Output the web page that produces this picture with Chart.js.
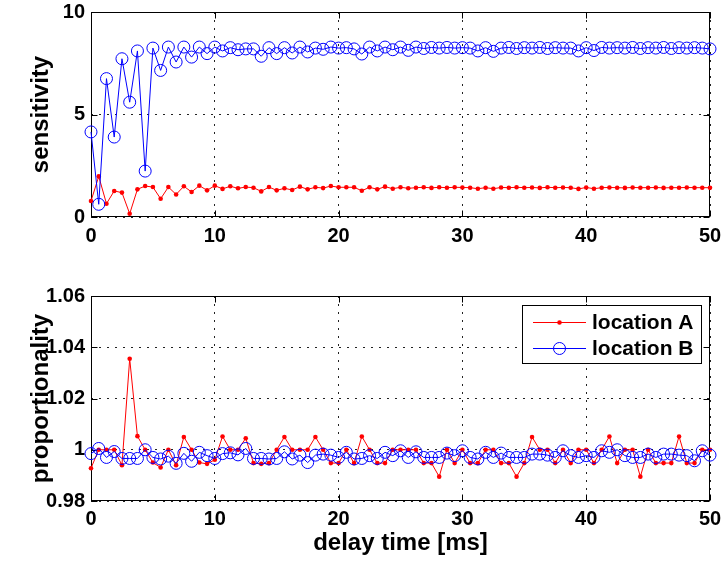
<!DOCTYPE html>
<html>
<head>
<meta charset="utf-8">
<title>sensitivity / proportionality vs delay time</title>
<script src="https://cdn.jsdelivr.net/npm/chart.js@4.4.0/dist/chart.umd.min.js"></script>
<style>
  html, body { margin: 0; padding: 0; background: #fff; }
  #wrap { position: relative; width: 724px; height: 565px; }
  #topChart { position: absolute; left: 0; top: 0; }
  #bottomChart { position: absolute; left: 0; top: 260px; }
</style>
</head>
<body>
<div id="wrap">
  <canvas id="topChart" width="724" height="260"></canvas>
  <canvas id="bottomChart" width="724" height="305"></canvas>
</div>
<script>
// -------- Data (one row = 10 ms) --------
const delayTime = [
  0, 0.625, 1.25, 1.875, 2.5, 3.125, 3.75, 4.375, 5, 5.625, 6.25, 6.875, 7.5, 8.125, 8.75, 9.375,
  10, 10.625, 11.25, 11.875, 12.5, 13.125, 13.75, 14.375, 15, 15.625, 16.25, 16.875, 17.5, 18.125, 18.75, 19.375,
  20, 20.625, 21.25, 21.875, 22.5, 23.125, 23.75, 24.375, 25, 25.625, 26.25, 26.875, 27.5, 28.125, 28.75, 29.375,
  30, 30.625, 31.25, 31.875, 32.5, 33.125, 33.75, 34.375, 35, 35.625, 36.25, 36.875, 37.5, 38.125, 38.75, 39.375,
  40, 40.625, 41.25, 41.875, 42.5, 43.125, 43.75, 44.375, 45, 45.625, 46.25, 46.875, 47.5, 48.125, 48.75, 49.375,
  50
];

const sensitivityA = [
  0.78, 1.98, 0.65, 1.27, 1.19, 0.16, 1.35, 1.51, 1.46, 0.89, 1.46, 1.10, 1.50, 1.22, 1.53, 1.30,
  1.53, 1.37, 1.50, 1.40, 1.46, 1.43, 1.25, 1.46, 1.30, 1.40, 1.32, 1.48, 1.35, 1.45, 1.41, 1.51,
  1.45, 1.45, 1.45, 1.28, 1.45, 1.35, 1.48, 1.38, 1.45, 1.40, 1.43, 1.45, 1.42, 1.45, 1.43, 1.45,
  1.44, 1.43, 1.38, 1.43, 1.38, 1.44, 1.43, 1.45, 1.43, 1.44, 1.42, 1.45, 1.43, 1.44, 1.43, 1.37,
  1.44, 1.38, 1.43, 1.44, 1.43, 1.42, 1.44, 1.43, 1.43, 1.44, 1.42, 1.43, 1.43, 1.44, 1.43, 1.43,
  1.43
];

const sensitivityB = [
  4.15, 0.62, 6.75, 3.90, 7.72, 5.60, 8.10, 2.24, 8.24, 7.15, 8.29, 7.56, 8.29, 7.80, 8.29, 7.97,
  8.29, 8.10, 8.26, 8.16, 8.20, 8.20, 7.84, 8.26, 7.97, 8.26, 8.00, 8.29, 8.05, 8.24, 8.18, 8.29,
  8.24, 8.26, 8.20, 7.95, 8.29, 8.10, 8.29, 8.16, 8.29, 8.13, 8.29, 8.22, 8.27, 8.24, 8.27, 8.24,
  8.26, 8.24, 8.10, 8.26, 8.08, 8.24, 8.27, 8.22, 8.26, 8.24, 8.27, 8.22, 8.26, 8.24, 8.24, 8.10,
  8.26, 8.12, 8.27, 8.24, 8.26, 8.24, 8.27, 8.22, 8.26, 8.24, 8.27, 8.22, 8.26, 8.24, 8.26, 8.24,
  8.20
];

const proportionalityA = [
  0.9928, 1.0, 1.0, 1.0, 0.994, 1.0355, 1.0053, 1.0, 0.995, 0.9931, 1.0, 0.994, 1.005, 1.0, 0.995, 0.9945,
  0.9961, 1.0052, 1.0, 1.0, 1.0045, 0.9948, 0.9945, 0.9948, 1.0, 1.005, 1.0, 1.0, 1.0, 1.005, 1.0, 0.9948,
  0.9948, 1.0, 0.9948, 1.0052, 1.0, 0.9948, 0.9948, 1.0, 1.0, 1.0, 1.0, 0.9948, 0.9948, 0.9895, 1.0, 0.9948,
  1.0, 0.9948, 0.9948, 1.0, 1.0, 0.9948, 0.9948, 0.9895, 0.9948, 1.005, 1.0, 1.0, 0.9948, 1.0, 0.9948, 1.0,
  1.0, 0.9948, 1.0, 1.0052, 0.9948, 1.0, 1.0, 0.9895, 1.0, 0.9948, 0.9948, 0.9948, 1.0052, 0.9948, 0.9948, 1.0,
  1.0
];

const proportionalityB = [
  0.9985, 1.0005, 0.997, 0.9993, 0.9966, 0.9966, 0.9966, 1.0, 0.997, 0.9964, 0.9975, 0.9947, 0.9986, 0.9955, 0.999, 0.9977,
  0.9966, 0.9985, 0.9988, 0.998, 1.0005, 0.9966, 0.9966, 0.9964, 0.9966, 0.9992, 0.9964, 0.9979, 0.995, 0.9979, 0.9983, 0.9979,
  0.997, 0.999, 0.9964, 0.9966, 0.9977, 0.9966, 0.999, 0.9977, 0.9996, 0.997, 0.9992, 0.997, 0.997, 0.997, 0.9987, 0.9977,
  0.9996, 0.997, 0.9964, 0.999, 0.997, 0.9987, 0.997, 0.997, 0.997, 0.9983, 0.9983, 0.9979, 0.997, 0.9996, 0.9977, 0.997,
  0.9977, 0.997, 0.9996, 0.999, 1.0, 0.9977, 0.997, 0.997, 0.9983, 0.997, 0.9983, 0.9983, 0.9979, 0.9977, 0.9957, 0.9996,
  0.9979
];

const seriesLabels = ['location A', 'location B'];
const xTicks = [0, 10, 20, 30, 40, 50];
const sensitivityTicks = [0, 5, 10];
const proportionalityTicks = [0.98, 1.00, 1.02, 1.04, 1.06];

// -------- Helpers --------
const FONT = '"Liberation Sans", Arial, Helvetica, sans-serif';

function toPoints(ys) {
  return delayTime.map((x, i) => ({ x: x, y: ys[i] }));
}

function seriesA(values) {
  return {
    label: seriesLabels[0],
    data: toPoints(values),
    borderColor: '#ff0000',
    backgroundColor: '#ff0000',
    borderWidth: 1,
    pointRadius: 2.3,
    pointBorderWidth: 0,
    tension: 0,
    clip: false,
    order: 1
  };
}

function seriesB(values) {
  return {
    label: seriesLabels[1],
    data: toPoints(values),
    borderColor: '#0000ff',
    backgroundColor: 'rgba(0,0,0,0)',
    borderWidth: 1,
    pointRadius: 6,
    pointBorderWidth: 1,
    tension: 0,
    clip: false,
    order: 0
  };
}

function tickFont() {
  return { family: FONT, size: 20, weight: 'bold' };
}

// frame around the axes + short inward ticks (matlab style)
const framePlugin = {
  id: 'frame',
  beforeDatasetsDraw(chart) {
    const { ctx, chartArea: a, scales } = chart;
    const l = Math.round(a.left) + 0.5, r = Math.round(a.right) - 0.5;
    const t = Math.round(a.top) + 0.5, b = Math.round(a.bottom) - 0.5;
    const len = 6;
    ctx.save();
    ctx.strokeStyle = '#000';
    ctx.lineWidth = 1;
    ctx.strokeRect(l, t, r - l, b - t);
    ctx.beginPath();
    scales.x.ticks.forEach(tk => {
      const px = Math.round(scales.x.getPixelForValue(tk.value)) + 0.5;
      ctx.moveTo(px, b); ctx.lineTo(px, b - len);
      ctx.moveTo(px, t); ctx.lineTo(px, t + len);
    });
    scales.y.ticks.forEach(tk => {
      const py = Math.round(scales.y.getPixelForValue(tk.value)) + 0.5;
      ctx.moveTo(l, py); ctx.lineTo(l + len, py);
      ctx.moveTo(r, py); ctx.lineTo(r - len, py);
    });
    ctx.stroke();
    ctx.restore();
  }
};

// boxed legend in the upper right corner of the plot
const legendBoxPlugin = {
  id: 'legendBox',
  afterDraw(chart) {
    const { ctx, chartArea: a } = chart;
    const w = 180, h = 59;
    const left = Math.round(a.right) - 8 - w, top = Math.round(a.top) + 9;
    ctx.save();
    ctx.fillStyle = '#fff';
    ctx.fillRect(left, top, w, h);
    ctx.strokeStyle = '#000';
    ctx.lineWidth = 1;
    ctx.strokeRect(left + 0.5, top + 0.5, w - 1, h - 1);
    ctx.font = 'bold 21px ' + FONT;
    ctx.textBaseline = 'middle';
    chart.data.datasets.forEach((ds, i) => {
      const y = top + 17.5 + i * 26;
      const x0 = left + 11, x1 = left + 64;
      ctx.strokeStyle = ds.borderColor;
      ctx.lineWidth = ds.borderWidth;
      ctx.beginPath();
      ctx.moveTo(x0, y); ctx.lineTo(x1, y);
      ctx.stroke();
      ctx.beginPath();
      ctx.arc((x0 + x1) / 2, y, ds.pointRadius, 0, Math.PI * 2);
      if (ds.pointBorderWidth > 0) {
        ctx.lineWidth = ds.pointBorderWidth;
        ctx.stroke();
      } else {
        ctx.fillStyle = ds.backgroundColor;
        ctx.fill();
      }
      ctx.fillStyle = '#000';
      ctx.fillText(ds.label, x1 + 6, y + 1);
    });
    ctx.restore();
  }
};

function getConfig(setup) {
  return {
    type: 'line',
    data: { datasets: setup.datasets },
    options: {
      responsive: false,
      animation: false,
      events: [],
      layout: { autoPadding: false, padding: { top: setup.padTop, right: 14, bottom: 0, left: 0 } },
      plugins: { legend: { display: false }, tooltip: { enabled: false } },
      scales: {
        x: {
          type: 'linear',
          min: 0,
          max: 50,
          afterBuildTicks: s => { s.ticks = xTicks.map(v => ({ value: v })); },
          // fixed axis box; the layout padding alone decides the plot area
          afterFit: s => { s.height = setup.xHeight; s.paddingLeft = 0; s.paddingRight = 0; },
          grid: { color: '#222', lineWidth: 1, drawTicks: false },
          border: { display: false, dash: [2, 6] },
          ticks: { color: '#000', font: tickFont(), padding: setup.xTickPad, maxRotation: 0 },
          title: {
            display: !!setup.xTitle,
            text: setup.xTitle || '',
            color: '#000',
            font: { family: FONT, size: 24, weight: 'bold' },
            padding: { top: 0, bottom: 7 }
          }
        },
        y: {
          type: 'linear',
          min: setup.yMin,
          max: setup.yMax,
          afterBuildTicks: s => { s.ticks = setup.yTicks.map(v => ({ value: v })); },
          afterFit: s => { s.width = 91; s.paddingTop = 0; s.paddingBottom = 0; },
          grid: { color: '#222', lineWidth: 1, drawTicks: false },
          border: { display: false, dash: [2, 6] },
          ticks: {
            color: '#000',
            font: tickFont(),
            padding: 6,
            callback: v => String(parseFloat(Number(v).toFixed(2)))
          },
          title: {
            display: true,
            text: setup.yTitle,
            color: '#000',
            font: { family: FONT, size: 24, weight: 'bold' },
            padding: { top: 27, bottom: 0 }
          }
        }
      }
    },
    plugins: setup.plugins
  };
}

// -------- Charts --------
const topChart = new Chart(document.getElementById('topChart'), getConfig({
  datasets: [seriesA(sensitivityA), seriesB(sensitivityB)],
  yMin: 0,
  yMax: 10,
  yTicks: sensitivityTicks,
  yTitle: 'sensitivity',
  padTop: 12,
  xHeight: 43,
  xTickPad: 7,
  plugins: [framePlugin]
}));

const bottomChart = new Chart(document.getElementById('bottomChart'), getConfig({
  datasets: [seriesA(proportionalityA), seriesB(proportionalityB)],
  yMin: 0.98,
  yMax: 1.06,
  yTicks: proportionalityTicks,
  yTitle: 'proportionality',
  xTitle: 'delay time [ms]',
  padTop: 36,
  xHeight: 64,
  xTickPad: 6,
  plugins: [framePlugin, legendBoxPlugin]
}));
</script>
</body>
</html>
